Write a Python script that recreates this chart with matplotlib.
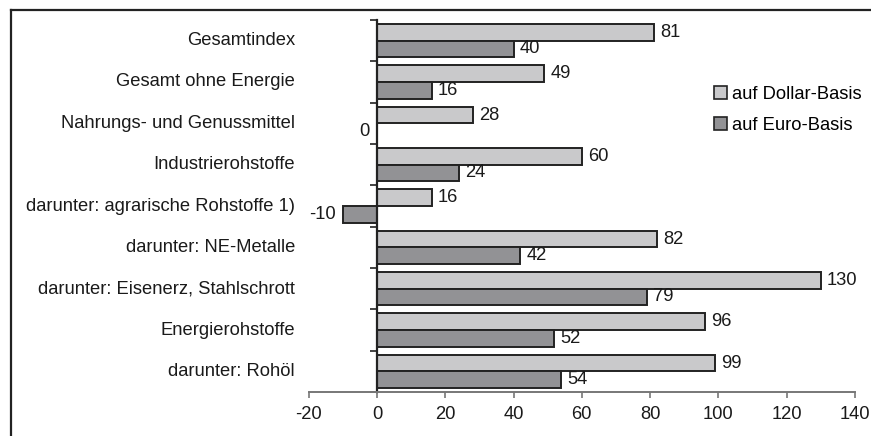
import matplotlib
matplotlib.use("Agg")
import matplotlib.pyplot as plt
from matplotlib.lines import Line2D
from matplotlib.patches import Patch
import matplotlib.transforms as mtransforms
import numpy as np

plt.rcParams['font.family'] = ['Liberation Sans', 'DejaVu Sans']

categories = ["Gesamtindex", "Gesamt ohne Energie", "Nahrungs- und Genussmittel",
              "Industrierohstoffe", "darunter: agrarische Rohstoffe 1)",
              "darunter: NE-Metalle", "darunter: Eisenerz, Stahlschrott",
              "Energierohstoffe", "darunter: Rohöl"]
dollar = [81, 49, 28, 60, 16, 82, 130, 96, 99]
euro = [40, 16, 0, 24, -10, 42, 79, 52, 54]
series_names = ["auf Dollar-Basis", "auf Euro-Basis"]
xticks = [-20, 0, 20, 40, 60, 80, 100, 120, 140]

W, H = 871, 436
fig = plt.figure(figsize=(W / 100, H / 100), dpi=100)
ax = fig.add_axes([308.6 / W, 1 - 392 / H, (855 - 308.6) / W, (392 - 20) / H])

c_light = "#c9c9cb"
c_dark = "#929295"
edge = "#222222"
fs = 13.2

n = len(categories)
y = np.arange(n)
ax.barh(y - 0.2, dollar, height=0.4, color=c_light, edgecolor=edge, linewidth=1.4, label=series_names[0])
ax.barh(y + 0.2, euro, height=0.4, color=c_dark, edgecolor=edge, linewidth=1.4, label=series_names[1])

ax.set_xlim(-20, 140)
ax.set_ylim(n - 0.5, -0.5)

# value labels
for vals, off in ((dollar, -0.2), (euro, 0.2)):
    for i, v in enumerate(vals):
        if v > 0:
            ax.annotate(str(v), (v, i + off), xytext=(4.5, 0), textcoords="offset points",
                        ha="left", va="center", fontsize=fs, color="#1a1a1a")
        else:
            ax.annotate(str(v), (v, i + off), xytext=(-5, 0), textcoords="offset points",
                        ha="right", va="center", fontsize=fs, color="#1a1a1a")

# category labels
trans = mtransforms.blended_transform_factory(ax.transAxes, ax.transData)
for i, c in enumerate(categories):
    ax.text(-0.025, i, c, transform=trans, ha="right", va="center", fontsize=fs, color="#1a1a1a")

# axes styling
for s in ("top", "right"):
    ax.spines[s].set_visible(False)
ax.spines["left"].set_position(("data", 0))
ax.spines["left"].set_color(edge)
ax.spines["left"].set_linewidth(1.6)
ax.spines["bottom"].set_color("#777777")
ax.spines["bottom"].set_linewidth(1.4)

ax.set_yticks(np.arange(n + 1) - 0.5)
ax.set_yticklabels([])
ax.tick_params(axis="y", length=5, width=1.2, color=edge, direction="out")
ax.set_xticks(xticks)
ax.set_xticklabels([str(t) for t in xticks])
ax.tick_params(axis="x", length=4, width=1.2, color="#777777", pad=6, labelsize=fs, labelcolor="#1a1a1a")

handles = [Patch(facecolor=c_light, edgecolor=edge, linewidth=1.2),
           Patch(facecolor=c_dark, edgecolor=edge, linewidth=1.2)]
fig.legend(handles, series_names, loc="upper left", bbox_to_anchor=(714 / W, 1 - 86 / H),
           bbox_transform=fig.transFigure, frameon=False, fontsize=fs,
           handlelength=0.7, handleheight=0.7, handletextpad=0.3,
           labelspacing=0.75, borderpad=0, borderaxespad=0)

# figure frame (top and left only visible)
fig.add_artist(Line2D([11 / W, 1], [1 - 9.8 / H, 1 - 9.8 / H], transform=fig.transFigure,
                      color="#222222", linewidth=1.6))
fig.add_artist(Line2D([11 / W, 11 / W], [0, 1 - 9.8 / H], transform=fig.transFigure,
                      color="#222222", linewidth=1.6))

fig.savefig("out.png", dpi=100)
